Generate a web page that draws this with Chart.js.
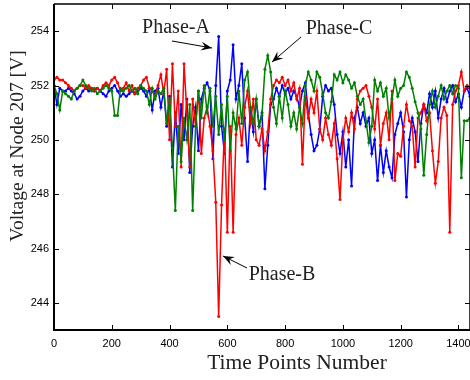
<!DOCTYPE html>
<html>
<head>
<meta charset="utf-8">
<script src="https://cdn.jsdelivr.net/npm/chart.js@4/dist/chart.umd.min.js"></script>
<style>
  html, body { margin: 0; padding: 0; background: #fff; overflow: hidden; }
  #wrap { width: 474px; height: 380px; }
</style>
</head>
<body>
<div id="wrap"><canvas id="voltageChart" width="474" height="380"></canvas></div>
<script>
// time axis (sampled every 10 points)
const timePoints = [];
for (let t = 0; t <= 1440; t += 10) timePoints.push(t);

const xTicks = [0, 200, 400, 600, 800, 1000, 1200, 1400];
const yTicks = [244, 246, 248, 250, 252, 254];

// Phase-A (blue)
const phaseA = [
  252.0, 251.3, 251.9, 251.8, 251.8, 251.9, 251.8, 251.7, 251.5, 251.6,
  251.8, 251.9, 251.8, 251.9, 251.8, 251.9, 251.8, 251.7, 251.6, 251.8,
  251.9, 252.0, 251.8, 251.6, 251.7, 251.6, 251.7, 251.8, 251.7, 251.8,
  251.9, 251.8, 251.6, 251.9, 251.1, 251.8, 251.9, 251.2, 251.8, 250.5,
  251.6, 249.0, 251.0, 249.5, 251.3, 250.0, 251.5, 248.8, 250.5, 251.2,
  249.6, 251.5, 251.9, 252.1, 251.8, 249.3, 252.0, 253.8, 250.5, 249.5,
  251.8, 252.2, 253.5, 251.5, 252.0, 252.8, 250.8, 249.2, 251.2, 250.3,
  251.5, 250.5, 251.0, 248.2, 249.8, 251.3, 251.5, 251.9, 251.6, 252.0,
  251.7, 251.9, 251.5, 251.8, 251.6, 251.2, 251.8, 252.1, 251.0, 250.2,
  249.6, 249.8, 250.4, 251.6, 252.0, 251.8, 251.9, 251.3, 250.2, 249.5,
  250.3, 249.0, 250.0, 248.3, 250.8, 251.2, 250.6, 251.0, 250.5, 250.8,
  249.5, 250.0, 248.5, 249.8, 248.8, 249.6, 249.0, 248.6, 250.2, 250.6,
  251.0, 250.3, 247.9, 250.0, 250.8, 250.3, 249.2, 250.6, 251.3, 251.0,
  251.7, 251.2, 251.8, 250.8, 251.5, 251.9, 251.4, 251.8, 252.0, 251.4,
  251.7, 251.2, 251.8, 251.9, 251.6
];

// Phase-B (red)
const phaseB = [
  252.2, 252.3, 252.2, 252.2, 252.1, 252.0, 251.9, 251.8, 251.9, 252.0,
  252.0, 251.9, 252.0, 251.9, 251.8, 251.9, 251.8, 252.0, 252.1, 252.0,
  252.2, 252.3, 252.1, 251.8, 251.9, 252.1, 251.8, 252.0, 251.7, 251.9,
  252.0, 252.2, 252.3, 251.9, 251.8, 251.6, 252.0, 252.4, 251.7, 252.6,
  250.0, 252.8, 250.5, 251.8, 249.0, 252.8, 251.0, 249.0, 251.5, 250.5,
  251.8, 249.5, 250.8, 251.2, 250.5, 249.6, 247.7, 243.5, 247.6, 250.4,
  246.6, 250.5, 246.6, 250.2, 250.8, 249.8, 251.2, 251.8, 250.6, 251.5,
  250.0, 249.8, 250.4, 249.6, 250.3, 251.5, 252.0, 252.2, 252.1, 252.3,
  252.0, 252.2, 251.8, 252.1, 251.5, 251.9, 249.1, 251.6, 250.8, 251.5,
  251.0, 251.8, 250.4, 250.0, 250.8, 250.2, 249.8, 250.6, 249.3, 247.8,
  250.0, 250.8, 250.3, 251.0, 250.4, 251.5, 251.8, 251.9, 252.0, 251.6,
  251.2, 250.4, 251.5, 249.8, 250.6, 251.0, 250.0, 251.8, 248.5, 249.5,
  249.4, 250.5, 251.3, 250.7, 250.5, 249.0, 250.8, 251.0, 251.3, 250.7,
  251.0, 249.6, 248.4, 249.2, 250.8, 251.2, 250.9, 246.6, 251.3, 251.8,
  252.0, 252.5, 251.8, 252.0, 251.9
];

// Phase-C (green)
const phaseC = [
  252.0, 251.7, 251.1, 251.8, 251.7, 251.6, 251.5, 251.8, 251.9, 252.0,
  252.2, 252.0, 251.9, 251.8, 251.9, 251.7, 251.8, 251.9, 252.0, 251.9,
  251.8, 250.9, 250.9, 251.9, 251.8, 251.9, 252.0, 251.8, 251.9, 251.7,
  252.0, 251.9, 251.8, 251.3, 251.9, 251.5, 251.8, 251.7, 251.9, 250.6,
  251.5, 249.7, 247.4, 250.5, 249.2, 250.8, 250.0, 251.3, 247.4, 250.5,
  251.8, 250.8, 252.0, 251.0, 251.9, 250.5, 251.6, 250.2, 251.3, 250.0,
  251.6, 249.6, 251.0, 250.4, 251.8, 250.6, 252.2, 252.5, 251.2, 250.6,
  251.5, 250.5, 250.9, 252.6, 253.1, 252.5, 251.2, 250.6, 251.6, 250.8,
  251.8, 251.3, 250.5, 251.0, 250.4, 251.2, 250.6, 252.0, 252.5, 252.2,
  251.8, 252.5, 252.3, 251.7, 251.0, 250.8, 251.4, 252.4, 252.2, 252.5,
  252.1, 252.4, 252.2, 251.9, 252.1, 251.6, 251.3, 251.5, 250.7, 249.9,
  250.5, 252.2, 251.8, 252.1, 251.6, 251.9, 250.8, 251.5, 252.2, 251.6,
  251.9, 252.0, 252.5, 252.3, 251.9, 251.4, 251.0, 250.4, 248.7, 250.2,
  251.3, 251.8, 251.2, 251.6, 252.0, 251.5, 251.8, 252.0, 251.7, 252.0,
  251.9, 248.6, 250.7, 250.7, 250.8
];

const toPoints = (values) => timePoints.map((t, i) => ({ x: t, y: values[i] }));

function makeSet(label, values, color, order) {
  return {
    label,
    data: toPoints(values),
    borderColor: color,
    backgroundColor: color,
    borderWidth: 1.5,
    pointRadius: 1.5,
    pointBorderWidth: 0,
    pointBackgroundColor: color,
    tension: 0,
    order
  };
}

// annotation labels with arrows: text position, arrow tail, arrow head
const annotations = [
  { text: 'Phase-A', tx: 176, ty: 28, from: [172, 41], to: [212, 48] },
  { text: 'Phase-C', tx: 339, ty: 29, from: [301, 37], to: [272, 62] },
  { text: 'Phase-B', tx: 282, ty: 275, from: [247, 268], to: [223, 256] }
];

function drawArrow(ctx, from, to) {
  ctx.save();
  ctx.strokeStyle = '#000';
  ctx.fillStyle = '#000';
  ctx.lineWidth = 1;
  ctx.beginPath();
  ctx.moveTo(from[0], from[1]);
  ctx.lineTo(to[0], to[1]);
  ctx.stroke();
  const ang = Math.atan2(to[1] - from[1], to[0] - from[0]);
  const len = 11, wid = 4.5, back = 7;
  const bx = to[0] - Math.cos(ang) * len, by = to[1] - Math.sin(ang) * len;
  const nx = -Math.sin(ang), ny = Math.cos(ang);
  ctx.beginPath();
  ctx.moveTo(to[0], to[1]);
  ctx.lineTo(bx + nx * wid, by + ny * wid);
  ctx.lineTo(to[0] - Math.cos(ang) * back, to[1] - Math.sin(ang) * back);
  ctx.lineTo(bx - nx * wid, by - ny * wid);
  ctx.closePath();
  ctx.fill();
  ctx.restore();
}

const framePlugin = {
  id: 'matlabFrame',
  afterDraw(chart) {
    const { ctx, chartArea: a, scales } = chart;
    ctx.save();
    ctx.strokeStyle = '#000';
    // box
    ctx.lineWidth = 1.5;
    ctx.beginPath();
    ctx.moveTo(a.left, a.top);
    ctx.lineTo(a.right, a.top);
    ctx.lineTo(a.right, a.bottom);
    ctx.stroke();
    ctx.lineWidth = 2;
    ctx.beginPath();
    ctx.moveTo(a.left, a.top);
    ctx.lineTo(a.left, a.bottom);
    ctx.lineTo(a.right, a.bottom);
    ctx.stroke();
    // inward ticks
    ctx.lineWidth = 1;
    const tl = 5;
    ctx.beginPath();
    xTicks.forEach(v => {
      const x = Math.round(scales.x.getPixelForValue(v)) + 0.5;
      ctx.moveTo(x, a.bottom); ctx.lineTo(x, a.bottom - tl);
      ctx.moveTo(x, a.top); ctx.lineTo(x, a.top + tl);
    });
    yTicks.forEach(v => {
      const y = Math.round(scales.y.getPixelForValue(v)) + 0.5;
      ctx.moveTo(a.left, y); ctx.lineTo(a.left + tl, y);
      ctx.moveTo(a.right, y); ctx.lineTo(a.right - tl, y);
    });
    ctx.stroke();

    // axis titles
    ctx.fillStyle = '#222';
    ctx.textAlign = 'center';
    ctx.textBaseline = 'middle';
    ctx.font = '21.5px "Liberation Serif", serif';
    ctx.fillText('Time Points Number', 297, 363);
    ctx.save();
    ctx.translate(18, 146);
    ctx.rotate(-Math.PI / 2);
    ctx.font = '19.5px "Liberation Serif", serif';
    ctx.fillText('Voltage at Node 207 [V]', 0, 0);
    ctx.restore();

    // phase labels
    ctx.font = '20px "Liberation Serif", serif';
    annotations.forEach(an => {
      ctx.fillStyle = '#222';
      ctx.fillText(an.text, an.tx, an.ty);
      drawArrow(ctx, an.from, an.to);
    });
    ctx.restore();
  }
};

const ctx = document.getElementById('voltageChart').getContext('2d');
new Chart(ctx, {
  type: 'line',
  data: {
    datasets: [
      makeSet('Phase-A', phaseA, '#0000ff', 3),
      makeSet('Phase-B', phaseB, '#ff0000', 2),
      makeSet('Phase-C', phaseC, '#008000', 1)
    ]
  },
  options: {
    responsive: false,
    animation: false,
    layout: { padding: { top: 3, right: 2, left: 0, bottom: 0 } },
    plugins: {
      legend: { display: false },
      tooltip: { enabled: false }
    },
    scales: {
      x: {
        type: 'linear',
        min: 0,
        max: 1440,
        afterFit: (s) => { s.height = 50; s.paddingLeft = 0; s.paddingRight = 0; },
        afterBuildTicks: (s) => { s.ticks = xTicks.map(v => ({ value: v })); },
        grid: { display: false, drawTicks: false },
        border: { display: false },
        ticks: {
          padding: 7,
          maxRotation: 0,
          color: '#000',
          callback: (v) => String(v),
          font: { family: '"Liberation Sans", Arial, sans-serif', size: 11 }
        }
      },
      y: {
        type: 'linear',
        min: 243,
        max: 255,
        afterFit: (s) => { s.width = 54; s.paddingTop = 0; s.paddingBottom = 0; },
        afterBuildTicks: (s) => { s.ticks = yTicks.map(v => ({ value: v })); },
        grid: { display: false, drawTicks: false },
        border: { display: false },
        ticks: {
          padding: 5,
          color: '#000',
          callback: (v) => String(v),
          font: { family: '"Liberation Sans", Arial, sans-serif', size: 11 }
        }
      }
    }
  },
  plugins: [framePlugin]
});
</script>
</body>
</html>
